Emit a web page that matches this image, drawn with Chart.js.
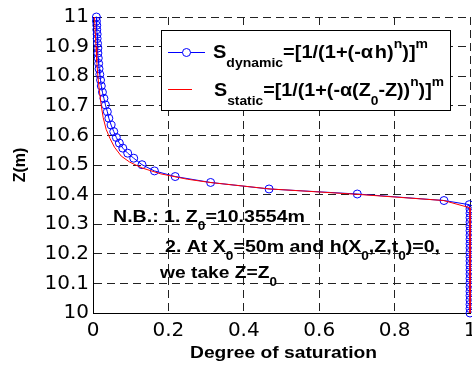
<!DOCTYPE html>
<html>
<head>
<meta charset="utf-8">
<script src="https://cdn.jsdelivr.net/npm/chart.js@4.4.0/dist/chart.umd.min.js"></script>
<style>
  body { margin: 0; background: #fff; }
  canvas { display: block; }
</style>
</head>
<body>
<canvas id="satChart" width="472" height="365"></canvas>
<script>
// Elevation Z (m) against degree of saturation
const dynamicZ = [11.000, 10.986, 10.972, 10.957, 10.942, 10.927, 10.911, 10.895, 10.878, 10.861,
    10.843, 10.825, 10.806, 10.787, 10.767, 10.746, 10.725, 10.703, 10.680, 10.658,
    10.635, 10.613, 10.593, 10.574, 10.557, 10.540, 10.523, 10.501, 10.480, 10.461,
    10.441, 10.419, 10.402, 10.380, 10.366, 10.351, 10.337, 10.322, 10.307, 10.293,
    10.278, 10.263, 10.249, 10.234, 10.220, 10.205, 10.190, 10.176, 10.161, 10.146,
    10.132, 10.117, 10.102, 10.088, 10.073, 10.059, 10.044, 10.029, 10.015, 10.000];
const dynamicS = [0.009, 0.009, 0.010, 0.010, 0.011, 0.011, 0.012, 0.013, 0.013, 0.014,
    0.015, 0.016, 0.018, 0.020, 0.022, 0.025, 0.029, 0.033, 0.038, 0.042,
    0.048, 0.055, 0.062, 0.070, 0.079, 0.092, 0.108, 0.130, 0.163, 0.218,
    0.312, 0.467, 0.701, 0.931, 0.998, 1, 1, 1, 1, 1,
    1, 1, 1, 1, 1, 1, 1, 1, 1, 1,
    1, 1, 1, 1, 1, 1, 1, 1, 1, 1];

const staticZ = [11.00, 10.95, 10.90, 10.85, 10.80, 10.75, 10.70, 10.66, 10.62, 10.59, 10.56,
    10.53, 10.51, 10.49, 10.47, 10.452, 10.441, 10.419, 10.401, 10.38, 10.3554, 10.00];
const staticS = [0.004, 0.006, 0.008, 0.010, 0.013, 0.017, 0.022, 0.027, 0.035, 0.045, 0.057,
    0.075, 0.097, 0.13, 0.18, 0.25, 0.31, 0.47, 0.70, 0.93, 1, 1];

const xTicks = [0, 0.2, 0.4, 0.6, 0.8, 1];
const xTickLabels = ['0', '0.2', '0.4', '0.6', '0.8', '1'];
const yTicks = [10, 10.1, 10.2, 10.3, 10.4, 10.5, 10.6, 10.7, 10.8, 10.9, 11];
const yTickLabels = ['10', '10.1', '10.2', '10.3', '10.4', '10.5', '10.6', '10.7', '10.8', '10.9', '11'];

const tickFont = { family: 'DejaVu Sans', size: 20 };
const gridColor = '#222';

// draws bold text with sub/superscripts, squeezed or stretched sideways to a given width
function drawRich(ctx, x, y, parts, size, width, center) {
    const fontFor = kind => 'bold ' + (kind ? size * 0.7 : size) + 'px "Liberation Sans", Arial, sans-serif';
    ctx.save();
    let w = 0;
    parts.forEach(p => {
        ctx.font = fontFor(p[1]);
        w += ctx.measureText(p[0]).width;
    });
    const sx = width / w;
    ctx.translate(center ? x - width / 2 : x, y);
    ctx.scale(sx, 1);
    ctx.fillStyle = '#000';
    ctx.textAlign = 'left';
    ctx.textBaseline = 'alphabetic';
    let cx = 0;
    parts.forEach(p => {
        const kind = p[1];
        const dy = kind === 'sub' ? size * 0.45 : kind === 'sup' ? -size * 0.55 : 0;
        ctx.font = fontFor(kind);
        ctx.fillText(p[0], cx, dy);
        cx += ctx.measureText(p[0]).width;
    });
    ctx.restore();
}

const notesPlugin = {
    id: 'notes',
    afterDraw(chart) {
        const ctx = chart.ctx;

        // Legend box
        ctx.save();
        ctx.fillStyle = '#fff';
        ctx.fillRect(161.5, 30.5, 289, 80);
        ctx.strokeStyle = '#000';
        ctx.lineWidth = 1;
        ctx.strokeRect(161.5, 30.5, 289, 80);

        ctx.strokeStyle = '#0000ff';
        ctx.beginPath();
        ctx.moveTo(168, 52.5);
        ctx.lineTo(205, 52.5);
        ctx.stroke();
        ctx.fillStyle = '#fff';
        ctx.beginPath();
        ctx.arc(186.5, 52.5, 4, 0, Math.PI * 2);
        ctx.fill();
        ctx.stroke();

        ctx.strokeStyle = '#ff0000';
        ctx.beginPath();
        ctx.moveTo(168, 89.5);
        ctx.lineTo(192, 89.5);
        ctx.stroke();
        ctx.restore();

        drawRich(ctx, 213, 58, [['S'], ['dynamic', 'sub'], ['=[1/(1+(-\u03b1\u200ah)'], ['n', 'sup'], [')]'], ['m', 'sup']], 19, 215);
        drawRich(ctx, 214, 96, [['S'], ['static', 'sub'], ['=[1/(1+(-\u03b1(Z'], ['0', 'sub'], ['-Z))'], ['n', 'sup'], [')]'], ['m', 'sup']], 19, 230);

        // Notes inside the plot
        drawRich(ctx, 113, 222, [['N.B.: 1. Z'], ['0', 'sub'], ['=10.3554m']], 17, 192);
        drawRich(ctx, 165, 252, [['2. At X'], ['0', 'sub'], ['=50m and h(X'], ['0', 'sub'], [',Z,t'], ['0', 'sub'], [')=0,']], 17, 275);
        drawRich(ctx, 160, 278, [['we take Z=Z'], ['0', 'sub']], 17, 117);

        // Axis titles
        drawRich(ctx, 283.5, 358, [['Degree of saturation']], 16, 187, true);
        ctx.save();
        ctx.translate(21, 165);
        ctx.rotate(-Math.PI / 2);
        ctx.font = 'bold 16px "Liberation Sans", Arial, sans-serif';
        ctx.fillStyle = '#000';
        ctx.textAlign = 'center';
        ctx.textBaseline = 'middle';
        ctx.fillText('Z(m)', 0, 0);
        ctx.restore();
    }
};

new Chart(document.getElementById('satChart'), {
    type: 'scatter',
    data: {
        datasets: [{
            label: 'S dynamic',
            data: dynamicZ.map((z, i) => ({ x: dynamicS[i], y: z })),
            showLine: true,
            borderColor: '#0000ff',
            borderWidth: 1,
            pointRadius: 4,
            pointBorderColor: '#0000ff',
            pointBackgroundColor: 'rgba(0,0,0,0)',
            pointBorderWidth: 1,
            order: 1,
            clip: false
        }, {
            label: 'S static',
            data: staticZ.map((z, i) => ({ x: staticS[i], y: z })),
            showLine: true,
            borderColor: '#ff0000',
            borderWidth: 1,
            pointRadius: 0,
            order: 0,
            clip: false
        }]
    },
    options: {
        responsive: false,
        animation: false,
        layout: { autoPadding: false, padding: { top: 17, right: 2, left: 0, bottom: 0 } },
        plugins: {
            legend: { display: false },
            tooltip: { enabled: false }
        },
        scales: {
            x: {
                type: 'linear',
                min: 0,
                max: 1,
                afterBuildTicks: scale => { scale.ticks = xTicks.map(v => ({ value: v })); },
                afterFit: scale => {
                    scale.height = 52;
                    scale.paddingLeft = 0;
                    scale.paddingRight = 0;
                },
                ticks: {
                    callback: (v, i) => xTickLabels[i],
                    font: tickFont,
                    color: '#000',
                    padding: 6,
                    maxRotation: 0,
                    autoSkip: false
                },
                grid: { color: gridColor, lineWidth: 1, drawTicks: false },
                border: { color: '#000', width: 1, dash: [8, 5] }
            },
            y: {
                type: 'linear',
                min: 10,
                max: 11,
                afterBuildTicks: scale => { scale.ticks = yTicks.map(v => ({ value: v })); },
                afterFit: scale => {
                    scale.width = 93;
                    scale.paddingTop = 0;
                    scale.paddingBottom = 0;
                },
                ticks: {
                    callback: (v, i) => yTickLabels[i],
                    font: tickFont,
                    color: '#000',
                    padding: 4,
                    autoSkip: false
                },
                grid: { color: gridColor, lineWidth: 1, drawTicks: false },
                border: { color: '#000', width: 1, dash: [8, 5] }
            }
        }
    },
    plugins: [notesPlugin]
});
</script>
</body>
</html>
